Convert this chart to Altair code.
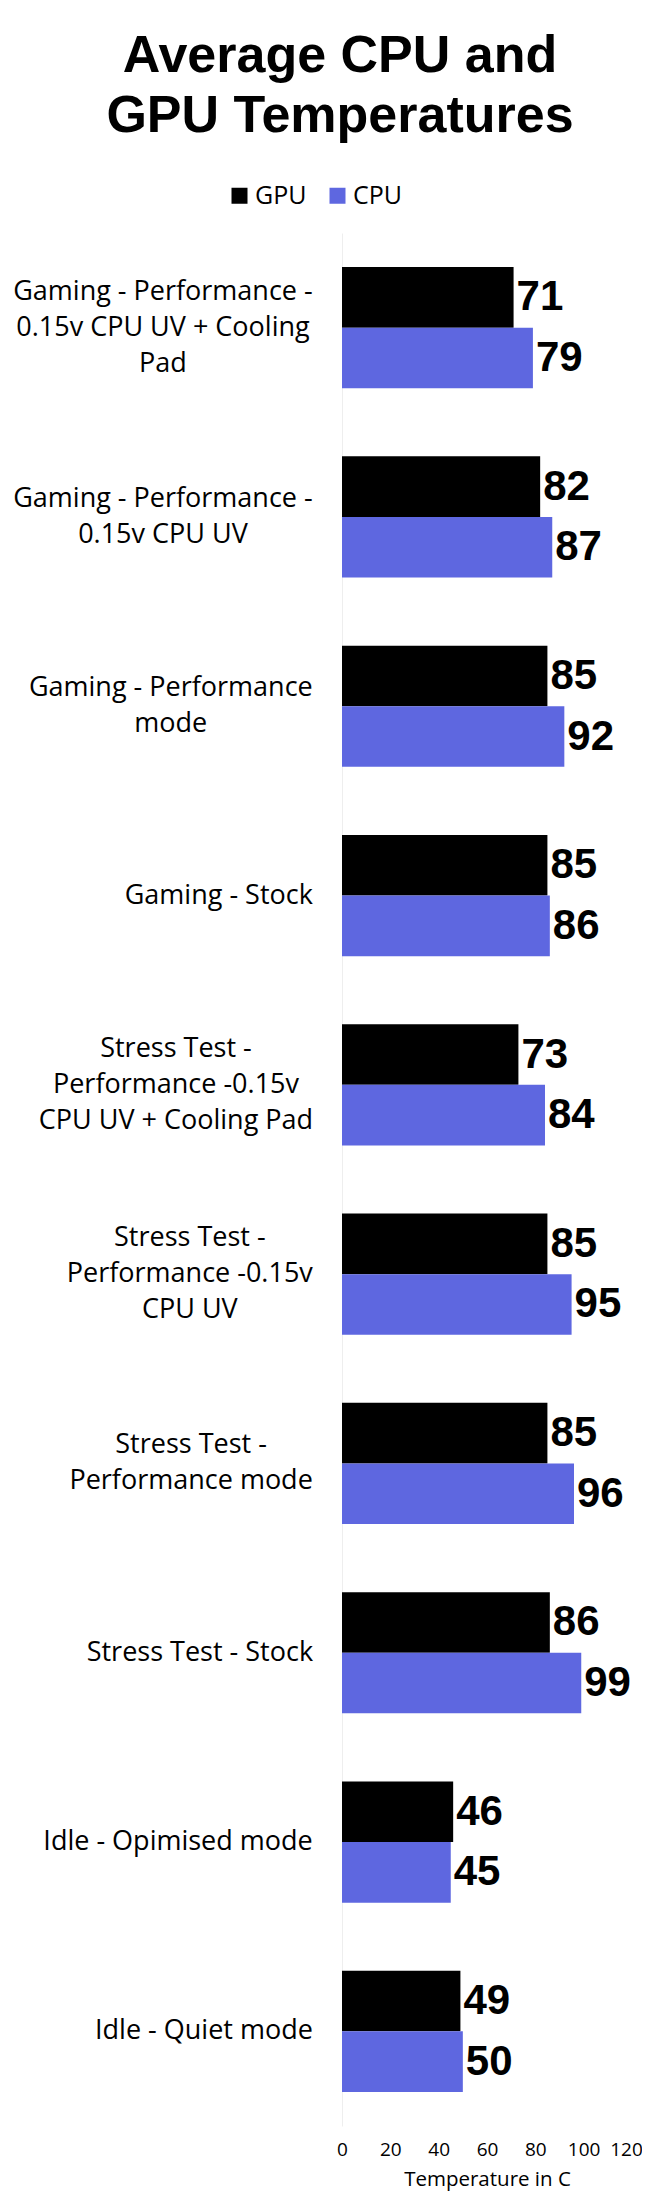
import altair as alt
import pandas as pd

# ---- data -------------------------------------------------------------
label_lines = [
    ["Gaming - Performance -", "0.15v CPU UV + Cooling", "Pad"],
    ["Gaming - Performance -", "0.15v CPU UV"],
    ["Gaming - Performance", "mode"],
    ["Gaming - Stock"],
    ["Stress Test -", "Performance -0.15v", "CPU UV + Cooling Pad"],
    ["Stress Test -", "Performance -0.15v", "CPU UV"],
    ["Stress Test -", "Performance mode"],
    ["Stress Test - Stock"],
    ["Idle - Opimised mode"],
    ["Idle - Quiet mode"],
]
categories = [" ".join(l) for l in label_lines]
gpu = [71, 82, 85, 85, 73, 85, 85, 86, 46, 49]
cpu = [79, 87, 92, 86, 84, 95, 96, 99, 45, 50]
series = ["GPU", "CPU"]
x_ticks = [0, 20, 40, 60, 80, 100, 120]

# ---- layout / style constants --------------------------------------------
PLOT_W = 290
PLOT_H = 1893
X_MAX = 120
LABEL_GAP = 29
LABEL_SIZE = 27
LINE_H = 36

# approximate Open Sans advance widths (em) used to centre multi-line labels
OPEN_SANS = {
    " ": 0.260, "-": 0.322, ".": 0.266, "+": 0.572,
    "0": 0.572, "1": 0.572, "5": 0.572,
    "C": 0.633, "G": 0.728, "I": 0.279, "O": 0.781, "P": 0.604, "Q": 0.781,
    "S": 0.549, "T": 0.553, "U": 0.729, "V": 0.562,
    "a": 0.556, "c": 0.476, "d": 0.613, "e": 0.561, "f": 0.339, "g": 0.548,
    "i": 0.253, "k": 0.525, "l": 0.253, "m": 0.930, "n": 0.614, "o": 0.604,
    "p": 0.613, "r": 0.408, "s": 0.477, "t": 0.353, "u": 0.614, "v": 0.501,
}


def text_width(s, size):
    return sum(OPEN_SANS.get(ch, 0.55) for ch in s) * size


bars_df = pd.DataFrame({
    "category": categories * 2,
    "series": ["GPU"] * len(categories) + ["CPU"] * len(categories),
    "temp": gpu + cpu,
})

lab_df = pd.DataFrame({
    "category": categories,
    "text": ["\n".join(l) for l in label_lines],
    "nlines": [len(l) for l in label_lines],
    "lx": [(-LABEL_GAP - max(text_width(s, LABEL_SIZE) for s in l) / 2) * X_MAX / PLOT_W
           for l in label_lines],
})

yscale = alt.Scale(domain=categories, paddingInner=0.36, paddingOuter=0.18)
xscale = alt.Scale(domain=[0, X_MAX], nice=False, zero=True)

x_axis = alt.Axis(
    values=x_ticks, grid=False, ticks=False, domain=False,
    labelFont="Open Sans", labelFontSize=19, labelColor="#000000",
    labelPadding=14, labelOverlap=False, labelFlush=False,
    labelOffset={"condition": {"test": f"datum.value == {X_MAX}", "value": -6}, "value": 0},
    title="Temperature in C", titleFont="Open Sans", titleFontSize=20.5,
    titleFontWeight="normal", titleColor="#000000", titlePadding=10,
)
y_axis = alt.Axis(labels=False, ticks=False, title=None, grid=False,
                  domainColor="#eeeeee", domainWidth=1)

bars = alt.Chart(bars_df).mark_bar().encode(
    x=alt.X("temp:Q", scale=xscale, axis=x_axis, title="Temperature in C"),
    y=alt.Y("category:N", sort=categories, scale=yscale, axis=y_axis),
    yOffset=alt.YOffset("series:N", sort=series, scale=alt.Scale(domain=series)),
    color=alt.Color(
        "series:N",
        scale=alt.Scale(domain=series, range=["#000000", "#5e67e0"]),
        legend=alt.Legend(
            orient="none", legendX=-115, legendY=-50, direction="horizontal",
            title=None, symbolType="square", symbolSize=256, symbolStrokeWidth=0,
            labelFont="Open Sans", labelFontSize=25, labelColor="#000000",
            columnPadding=18, labelOffset=3, padding=0,
        ),
    ),
)

values = alt.Chart(bars_df).mark_text(
    align="left", baseline="middle", dx=3,
    font="Liberation Sans", fontWeight="bold", fontSize=42, color="#000000",
).encode(
    x=alt.X("temp:Q", scale=xscale, axis=x_axis, title="Temperature in C"),
    y=alt.Y("category:N", sort=categories, scale=yscale, axis=y_axis),
    yOffset=alt.YOffset("series:N", sort=series, scale=alt.Scale(domain=series)),
    text=alt.Text("temp:Q"),
)

# category labels: one layer per line count so each block is vertically centred
label_layers = []
for n in sorted(set(lab_df["nlines"])):
    label_layers.append(
        alt.Chart(lab_df).transform_filter(alt.datum.nlines == n).mark_text(
            align="center", baseline="middle", lineBreak="\n",
            dy=-(n - 1) * LINE_H / 2,
            font="Open Sans", fontSize=LABEL_SIZE, lineHeight=LINE_H, color="#000000",
        ).encode(
            x=alt.X("lx:Q", scale=xscale, axis=x_axis, title="Temperature in C"),
            y=alt.Y("category:N", sort=categories, scale=yscale, axis=y_axis),
            text=alt.Text("text:N"),
        )
    )

chart = alt.layer(bars, values, *label_layers).properties(
    width=PLOT_W,
    height=PLOT_H,
    title=alt.Title(
        ["Average CPU and", "GPU Temperatures"],
        font="Liberation Sans", fontSize=52, fontWeight="bold", lineHeight=60,
        anchor="middle", frame="group", dx=-147, color="#000000", offset=40,
    ),
    autosize=alt.AutoSizeParams(type="none"),
    padding={"left": 334, "top": 225, "right": 10, "bottom": 68},
).configure_view(stroke=None)

chart.save("out.html", embed_options={"renderer": "svg", "actions": False})
